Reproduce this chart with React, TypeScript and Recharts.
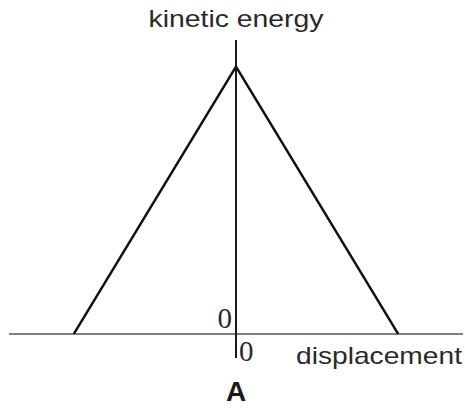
import { LineChart, Line, XAxis, YAxis, ReferenceLine, ReferenceDot } from "recharts";

// displacement positions and kinetic energy at each
const displacement = [-1, 0, 1];
const kineticEnergy = [0, 1, 0];

const yTitle = "kinetic energy";
const xTitle = "displacement";
const originLabel = "0";
const caption = "A";

const data = displacement.map((x, i) => ({ x, ke: kineticEnergy[i] }));

const sans = "'Liberation Sans', Arial, sans-serif";
const serif = "'Liberation Serif', 'Times New Roman', serif";

function YTitle(props: any) {
  const vb = props.viewBox || {};
  return (
    <text
      x={vb.x}
      y={vb.y - 13}
      textAnchor="middle"
      fontFamily={sans}
      fontSize={24}
      fill="#2a2a2a"
      textLength={175}
      lengthAdjust="spacingAndGlyphs"
    >
      {yTitle}
    </text>
  );
}

function XTitle(props: any) {
  const vb = props.viewBox || {};
  return (
    <text
      x={vb.x + vb.width - 1}
      y={vb.y + 30}
      textAnchor="end"
      fontFamily={sans}
      fontSize={24}
      fill="#2a2a2a"
      textLength={166}
      lengthAdjust="spacingAndGlyphs"
    >
      {xTitle}
    </text>
  );
}

function OriginLabels(props: any) {
  const vb = props.viewBox || {};
  const cx = vb.x + (vb.width || 0) / 2;
  const cy = vb.y + (vb.height || 0) / 2;
  return (
    <g>
      <text x={cx - 4} y={cy - 6} textAnchor="end" fontFamily={serif} fontSize={29} fill="#2a2a2a">
        {originLabel}
      </text>
      <text x={cx + 3} y={cy + 27} textAnchor="start" fontFamily={serif} fontSize={29} fill="#2a2a2a">
        {originLabel}
      </text>
      <text x={cx} y={cy + 67} textAnchor="middle" fontFamily={sans} fontWeight="bold" fontSize={28} fill="#1a1a1a">
        {caption}
      </text>
    </g>
  );
}

export default function App() {
  return (
    <div style={{ position: "absolute", left: 0, top: 0, background: "#fff" }}>
      <LineChart width={465} height={410} data={data} margin={{ top: 40, right: 2, bottom: 52, left: 9 }}>
        <XAxis type="number" dataKey="x" domain={[-1.4, 1.4]} allowDataOverflow hide />
        <YAxis type="number" domain={[-0.09, 1.1]} allowDataOverflow hide />
        <ReferenceLine y={0} stroke="#808080" strokeWidth={2} label={<XTitle />} />
        <Line
          type="linear"
          dataKey="ke"
          stroke="#111"
          strokeWidth={2.5}
          dot={false}
          activeDot={false}
          isAnimationActive={false}
        />
        <ReferenceLine x={0} stroke="#1a1a1a" strokeWidth={2} label={<YTitle />} />
        <ReferenceDot x={0} y={0} r={1} fill="none" stroke="none" label={<OriginLabels />} />
      </LineChart>
    </div>
  );
}
